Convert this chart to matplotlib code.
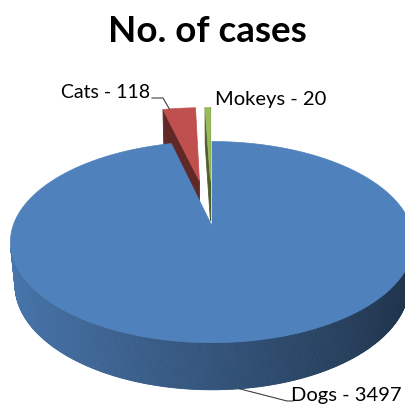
import numpy as np
import matplotlib
matplotlib.use("Agg")
import matplotlib.pyplot as plt
from matplotlib.patches import Polygon
from matplotlib.colors import to_rgb

# data
labels = ["Dogs", "Cats", "Mokeys"]
values = [3497, 118, 20]
explode = [0.0, 0.5, 0.5]
top_colors = ["#4f81bd", "#c0504d", "#9bbb59"]
title = "No. of cases"

# 3d view (pixel space, y down)
cx, cy, R = 212, 227, 199
elev = np.radians(29.5)
se, ce = np.sin(elev), np.cos(elev)
f = 6.25 * ce
h = 0.25
cam = np.array([0.0, -f * ce, f * se])


def proj(X, Y, Z):
    yp = Y * se + Z * ce
    d = Y * ce - Z * se
    s = f / (f + d)
    return cx + R * X * s, cy - R * yp * s, d


def shade(col, k):
    return tuple(min(1, c * k) for c in to_rgb(col))


fig = plt.figure(figsize=(4.05, 4.10), dpi=100)
ax = fig.add_axes([0, 0, 1, 1])
ax.set_xlim(0, 405)
ax.set_ylim(410, 0)
ax.axis("off")

total = float(sum(values))
ends = np.cumsum(values) / total * 360
starts = np.concatenate([[0], ends[:-1]])

# exploded (back) slices first, big one last
for i in [2, 1, 0]:
    a, b = starts[i], ends[i]
    m = np.radians((a + b) / 2)
    ox, oy = explode[i] * np.sin(m), explode[i] * np.cos(m)
    th = np.radians(np.linspace(a, b, max(3, int(b - a) * 2 + 2)))
    faces = []

    def rim(t, z):
        return proj(np.sin(t) + ox, np.cos(t) + oy, z)

    # outer wall
    for t0, t1 in zip(th[:-1], th[1:]):
        tm = (t0 + t1) / 2
        n = np.array([np.sin(tm), np.cos(tm), 0])
        P = np.array([np.sin(tm) + ox, np.cos(tm) + oy, -h / 2])
        if n @ (cam - P) > 0:
            pts = [rim(t0, 0), rim(t1, 0), rim(t1, -h), rim(t0, -h)]
            k = 0.65 - 0.27 * n[0]
            faces.append((np.mean([p[2] for p in pts]), pts, shade(top_colors[i], k)))

    # radial faces
    for t, n in [(np.radians(a), np.array([-np.cos(np.radians(a)), np.sin(np.radians(a)), 0])),
                 (np.radians(b), np.array([np.cos(np.radians(b)), -np.sin(np.radians(b)), 0]))]:
        P = np.array([np.sin(t) / 2 + ox, np.cos(t) / 2 + oy, -h / 2])
        if n @ (cam - P) > 1e-6:
            pts = [proj(ox, oy, 0), rim(t, 0), rim(t, -h), proj(ox, oy, -h)]
            faces.append((np.mean([p[2] for p in pts]), pts, shade(top_colors[i], 0.5)))

    faces.sort(key=lambda q: -q[0])
    for _, pts, col in faces:
        ax.add_patch(Polygon([(p[0], p[1]) for p in pts], closed=True,
                             facecolor=col, edgecolor=col, lw=0.6))

    top = [proj(ox, oy, 0)] + [rim(t, 0) for t in th]
    ax.add_patch(Polygon([(p[0], p[1]) for p in top], closed=True,
                         facecolor=top_colors[i], edgecolor=top_colors[i], lw=0.5))

# labels and leaders
font = "Lato"
ax.text(207, 31, title, ha="center", va="center", fontsize=26.5,
        fontweight="bold", family=font)

m = np.radians(starts[1] + 0.3 * (ends[1] - starts[1]))
lx, ly, _ = proj(np.sin(m) * (1 + explode[1]), np.cos(m) * (1 + explode[1]), 0)
ax.plot([152, 163, lx], [99, 99, ly], color="#404040", lw=0.8)
ax.text(150, 92, f"{labels[1]} - {values[1]}", ha="right", va="center",
        fontsize=14, family=font)

ax.text(215, 100, f"{labels[2]} - {values[2]}", ha="left", va="center",
        fontsize=14.5, family=font)

m = np.radians((starts[0] + ends[0]) / 2)
lx, ly, _ = proj(np.sin(m), np.cos(m), -h)
ax.plot([lx, 287, 293], [ly, 402, 402], color="#404040", lw=0.8)
ax.text(291, 396, f"{labels[0]} - {values[0]}", ha="left", va="center",
        fontsize=14.5, family=font)

fig.savefig("out.png", dpi=100)
